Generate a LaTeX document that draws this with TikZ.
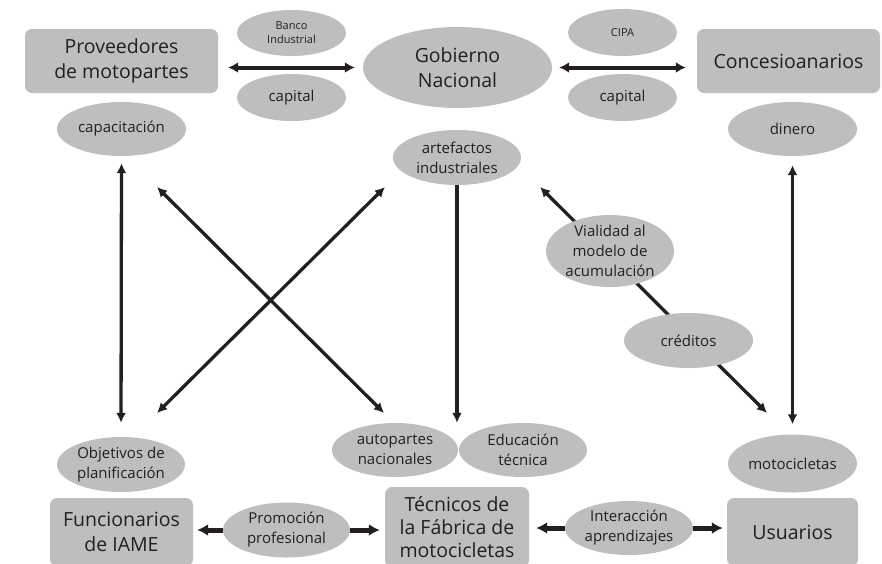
\documentclass[tikz,border=0pt]{standalone}
\usepackage{fontspec}
\setmainfont{Open Sans}
\usetikzlibrary{shapes.geometric,arrows.meta,backgrounds}
\definecolor{fillg}{RGB}{189,190,192}
\definecolor{ink}{RGB}{35,31,32}
\begin{document}
\begin{tikzpicture}[x=1pt,y=-1pt,
  every node/.style={text=ink},
  box/.style={rectangle, rounded corners=7pt, fill=fillg, align=center, inner sep=0pt, font=\fontsize{19.5}{25}\selectfont},
  oval/.style={ellipse, fill=fillg, inner sep=0pt, align=center, font=\fontsize{15}{20}\selectfont},
  small/.style={font=\fontsize{11}{14}\selectfont},
  conn/.style={draw=ink, line width=3.3pt, -{Latex[length=10pt,width=10pt]}},
  dconn/.style={draw=ink, line width=3.3pt, {Latex[length=10pt,width=10pt]}-{Latex[length=10pt,width=10pt]}},
  hconn/.style={draw=ink, line width=4pt, {Latex[length=10pt,width=11pt]}-{Latex[length=10pt,width=11pt]}},
  sconn/.style={draw=ink, line width=5pt, -{Latex[length=11pt,width=12pt]}},
]
\clip (0,0) rectangle (882,563);
\fill[white] (0,0) rectangle (882,563);

% top row
\node[box, minimum width=193pt, minimum height=64pt] (prov) at (121.5,61) {Proveedores\\de motopartes};
\node[oval, small, minimum width=109pt, minimum height=46pt] (banco) at (291.5,33) {Banco\\Industrial};
\node[oval, minimum width=109pt, minimum height=47pt] (cap1) at (291.5,97.5) {capital};
\node[oval, minimum width=189pt, minimum height=81pt, font=\fontsize{19.5}{25}\selectfont] (gob) at (457.5,67.5) {Gobierno\\Nacional};
\node[oval, small, minimum width=109pt, minimum height=47pt] (cipa) at (622.5,32.5) {CIPA};
\node[oval, minimum width=109pt, minimum height=47pt] (cap2) at (622.5,97.5) {capital};
\node[box, minimum width=183pt, minimum height=64pt] (conc) at (788.5,61) {Concesioanarios};

% second row
\node[oval, minimum width=129pt, minimum height=54pt] (capac) at (121.5,129) {capacitación};
\node[oval, minimum width=129pt, minimum height=54pt] (dinero) at (792.5,129) {dinero};
\node[oval, minimum width=128pt, minimum height=55pt] (art) at (457,157.5) {artefactos\\industriales};

% middle right
\coordinate (v1) at (540,187);
\coordinate (v2) at (767,413);
\draw[dconn] (v1) -- (v2);
\node[oval, inner sep=-7pt, minimum width=128pt, minimum height=72pt] (vial) at (610,251) {Vialidad al\\modelo de\\acumulación};
\node[oval, minimum width=129pt, minimum height=55pt] (cred) at (688.5,340.5) {créditos};

% lower row of ovals
\node[oval, minimum width=128pt, minimum height=55pt] (obj) at (121,464.5) {Objetivos de\\planificación};
\node[oval, minimum width=126pt, minimum height=54pt] (auto) at (395,450) {autopartes\\nacionales};
\node[oval, minimum width=128pt, minimum height=54pt] (edu) at (523,450) {Educación\\técnica};
\node[oval, minimum width=129pt, minimum height=58pt] (moto) at (792.5,463.5) {motocicletas};

% bottom row
\node[box, minimum width=143pt, minimum height=68pt] (func) at (121.5,532) {Funcionarios\\de IAME};
\node[oval, minimum width=127pt, minimum height=55pt] (promo) at (286.5,530) {Promoción\\profesional};
\node[box, minimum width=144pt, minimum height=80pt, font=\fontsize{19.5}{23}\selectfont] (tec) at (457,527) {Técnicos de\\la Fábrica de\\motocicletas};
\node[oval, minimum width=128pt, minimum height=54pt] (inter) at (629,528) {Interacción\\aprendizajes};
\node[box, minimum width=131pt, minimum height=68pt] (usu) at (792.5,532) {Usuarios};

% connectors top
\draw[hconn, shorten <=10pt, shorten >=8pt] (prov.east |- gob.west) -- (gob.west);
\draw[hconn, shorten <=7pt, shorten >=11pt] (gob.east) -- (conc.west |- gob.east);

% verticals
\draw[dconn, shorten <=7pt, shorten >=14pt] (capac.south) -- (obj.north);
\draw[dconn, shorten <=9pt, shorten >=10pt] (dinero.south) -- (moto.north);
\draw[conn] (art.south) -- (art.south |- auto.north);

% diagonals
\coordinate (x1a) at (157,187);
\coordinate (x1b) at (384,413);
\coordinate (x2a) at (385,187);
\coordinate (x2b) at (157,413);
\draw[dconn] (x1a) -- (x1b);
\draw[dconn] (x2a) -- (x2b);

% bottom arrows
\draw[sconn, shorten >=4pt] (promo.west) -- (func.east |- promo.west);
\draw[sconn, shorten >=5pt] (promo.east) -- (tec.west |- promo.east);
\draw[sconn, shorten >=7pt] (inter.west) -- (tec.east |- inter.west);
\draw[sconn, shorten >=4pt] (inter.east) -- (usu.west |- inter.east);
\end{tikzpicture}
\end{document}
